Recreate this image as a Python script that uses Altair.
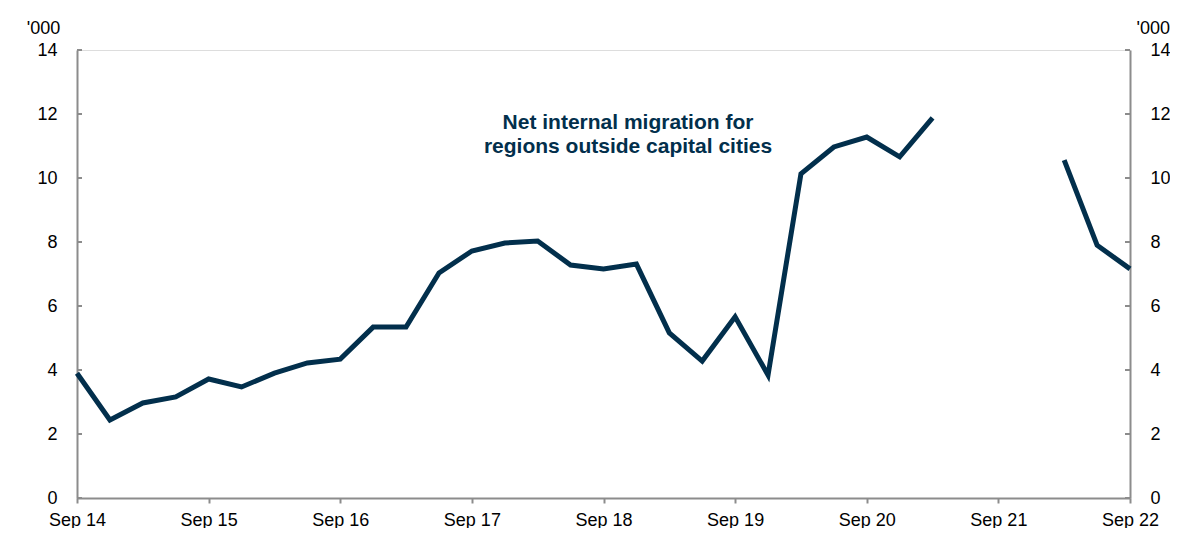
import altair as alt
import pandas as pd

quarters = ["Sep 14", "Dec 14", "Mar 15", "Jun 15", "Sep 15", "Dec 15", "Mar 16", "Jun 16",
            "Sep 16", "Dec 16", "Mar 17", "Jun 17", "Sep 17", "Dec 17", "Mar 18", "Jun 18",
            "Sep 18", "Dec 18", "Mar 19", "Jun 19", "Sep 19", "Dec 19", "Mar 20", "Jun 20",
            "Sep 20", "Dec 20", "Mar 21", "Jun 21", "Sep 21", "Dec 21", "Mar 22", "Jun 22",
            "Sep 22"]
values = [3.9, 2.44, 2.97, 3.16, 3.72, 3.47, 3.9, 4.22,
          4.34, 5.34, 5.34, 7.03, 7.72, 7.97, 8.03, 7.28,
          7.16, 7.31, 5.16, 4.28, 5.66, 3.84, 10.13, 10.97,
          11.28, 10.66, 11.88, None, None, None, 10.56, 7.9,
          7.16]
year_labels = ["Sep 14", "Sep 15", "Sep 16", "Sep 17", "Sep 18", "Sep 19", "Sep 20", "Sep 21", "Sep 22"]
y_ticks = [0, 2, 4, 6, 8, 10, 12, 14]
title_lines = ["Net internal migration for", "regions outside capital cities"]

df = pd.DataFrame({"quarter": quarters, "idx": list(range(len(quarters))), "value": values})
ticks_df = pd.DataFrame({"v": y_ticks})

W, H = 1053, 448
NAVY = "#022f4c"
GREY = "#8c8c8c"
FONT = "Liberation Sans"
FS = 18

label_expr = "[" + ",".join("'%s'" % s for s in year_labels) + "][datum.value/4]"

x_enc = alt.X("idx:Q", scale=alt.Scale(domain=[0, len(quarters) - 1], nice=False, zero=False),
              axis=alt.Axis(values=[i * 4 for i in range(len(year_labels))], labelExpr=label_expr,
                            title=None, grid=False, domainColor=GREY, domainWidth=2,
                            tickColor=GREY, tickWidth=2, tickSize=5, labelPadding=8,
                            labelFlush=False, labelOverlap=False,
                            labelFontSize=FS, labelFont=FONT, labelColor="#000000"))
yscale = alt.Scale(domain=[0, 14], nice=False)

line = alt.Chart(df).mark_line(color=NAVY, strokeWidth=5, invalid="break-paths-show-domains").encode(
    x=x_enc,
    y=alt.Y("value:Q", scale=yscale,
            axis=alt.Axis(values=y_ticks, title="'000", titleAngle=0, titleX=-34, titleY=-13,
                          titleAlign="center", titleFontWeight="normal", titleFontSize=FS,
                          titleFont=FONT, grid=False, domainColor=GREY, domainWidth=2,
                          ticks=False, labelPadding=20, labelFontSize=FS, labelFont=FONT,
                          labelFlush=False, labelColor="#000000"))
)

left_ticks = alt.Chart(ticks_df).mark_rule(color=GREY, strokeWidth=2).encode(
    y=alt.Y("v:Q", scale=yscale, axis=None), x=alt.value(0), x2=alt.value(5))

right = alt.Chart(ticks_df).mark_rule(color=GREY, strokeWidth=2).encode(
    y=alt.Y("v:Q", scale=yscale,
            axis=alt.Axis(orient="right", values=y_ticks, title="'000", titleAngle=0, titleX=6,
                          titleY=-13, titleAlign="left", titleFontWeight="normal",
                          titleFontSize=FS, titleFont=FONT, grid=False, domainColor=GREY,
                          domainWidth=2, ticks=False, labelPadding=20, labelFontSize=FS,
                          labelFlush=False, labelFont=FONT, labelColor="#000000")),
    x=alt.value(W - 5), x2=alt.value(W))

title_df = pd.DataFrame({"t": [title_lines]})
title = alt.Chart(title_df).mark_text(fontWeight="bold", fontSize=21, font=FONT, color=NAVY,
                                      align="center", baseline="middle", lineHeight=24).encode(
    text="t", x=alt.value(551), y=alt.value(73))

chart = alt.layer(line, left_ticks, right, title).resolve_scale(y="independent").properties(
    width=W, height=H,
    autosize=alt.AutoSizeParams(type="none"),
    padding={"left": 69, "top": 42, "right": 40, "bottom": 30},
).configure_view(stroke=None).configure(background="white")

chart.save("out.html", embed_options={"renderer": "svg", "actions": False})
